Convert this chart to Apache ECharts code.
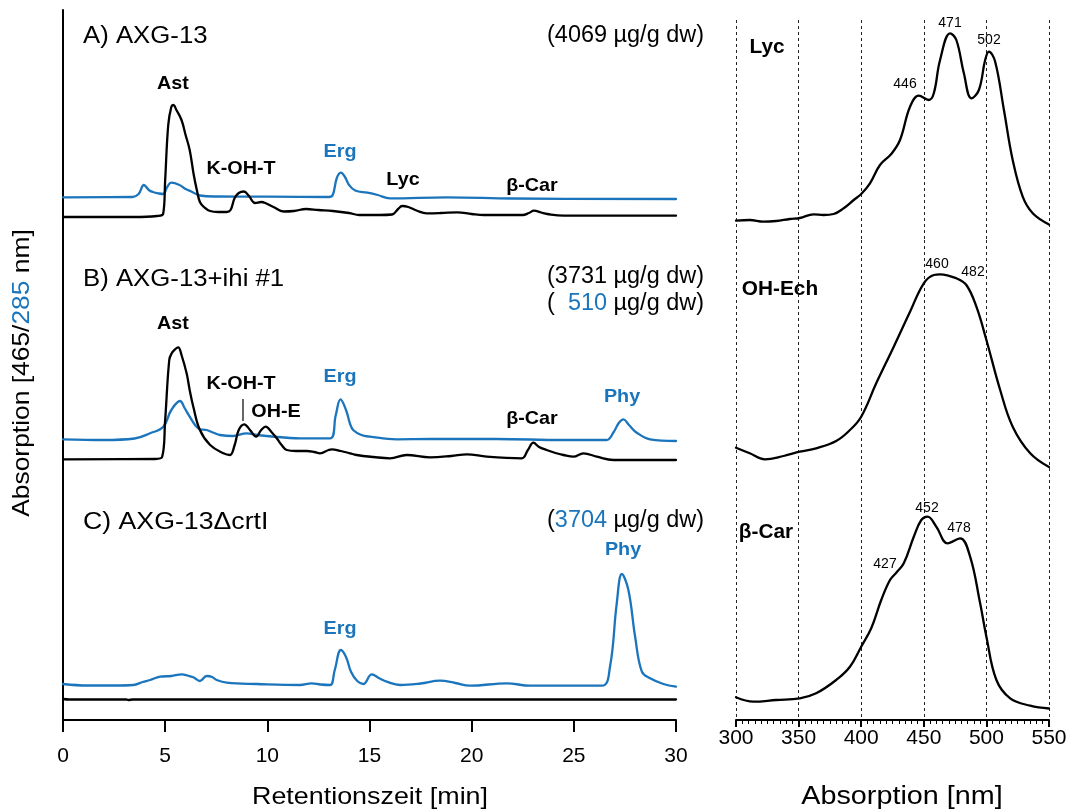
<!DOCTYPE html>
<html>
<head>
<meta charset="utf-8">
<script src="https://cdn.jsdelivr.net/npm/echarts@6/dist/echarts.min.js"></script>
<style>
html,body{margin:0;padding:0;background:#fff;}
#chart{width:1076px;height:811px;}
</style>
</head>
<body>
<div id="chart"></div>
<script>
// ---------- DATA (retention time [min], signal in arbitrary units) ----------
const aBlack = [[0,23],[3.5,23],[4.6,24],[4.9,26],[5.0,60],[5.15,115],[5.3,133],[5.4,135],[5.55,130],[5.8,120],[6.0,105],[6.2,90],[6.4,65],[6.55,50],[6.7,38],[6.9,33],[7.2,29],[7.6,28],[8.0,28],[8.2,30],[8.4,42],[8.6,47],[8.85,48.5],[9.1,44],[9.4,37],[9.7,38],[9.9,37],[10.3,33],[10.8,28.5],[11.3,29],[11.9,31],[12.5,30],[13.2,29],[14.0,27],[14.5,25],[15.5,25],[16.1,25.5],[16.4,31],[16.6,34],[16.9,33],[17.3,29.5],[17.8,26.7],[18.5,27],[19.3,27.7],[20,26],[20.6,25],[22.5,25],[22.8,27],[23.05,29.3],[23.4,27.5],[23.7,26],[24.5,24.3],[30,24.3]];
const aBlue = [[0,42.7],[3.4,43],[3.7,46],[3.96,55],[4.2,50],[4.4,48],[4.7,46.5],[4.9,46],[5.1,53],[5.3,57.3],[5.7,55],[6.0,51],[6.3,48.3],[6.7,44.5],[7.5,43.5],[10,43.3],[13.0,43],[13.2,45],[13.4,62],[13.6,67.3],[13.8,63],[14.0,55],[14.3,49.5],[14.9,47.3],[15.4,45],[16.0,41.7],[18.8,42.7],[22,41.5],[30,41]];
const bBlack = [[0,20.7],[4.5,21],[4.85,23],[5.0,60],[5.2,120],[5.32,126.7],[5.5,131],[5.64,132.7],[5.8,125],[6.05,106.7],[6.2,90],[6.38,73],[6.7,50],[7.2,35],[7.85,26.7],[8.17,25],[8.4,35],[8.6,50],[8.87,55.7],[9.15,50],[9.45,43.3],[9.7,50],[9.92,53.3],[10.2,48],[10.46,41.7],[10.7,35],[10.95,30],[11.4,29],[11.93,29],[12.3,28],[12.58,26.7],[13.0,30],[13.15,30.7],[13.6,29],[14.05,26.7],[14.37,25],[15.2,23],[16.0,21.7],[16.82,25],[17.96,22.7],[19.0,24],[19.76,25.7],[20.74,23.3],[22.45,21.7],[22.75,30],[23.02,37.3],[23.3,33],[23.67,30],[24.1,27],[24.49,25],[24.98,23.3],[25.47,26.7],[26.12,23.3],[26.94,20],[30,20]];
const bBlue = [[0,40.7],[2,40],[3.5,41.5],[4.26,46.7],[4.91,53.3],[5.3,70],[5.73,79],[5.95,72],[6.2,63.3],[6.5,54],[6.7,50.7],[7.03,50],[7.4,47],[7.68,45],[8.3,44],[8.99,46.7],[9.5,45],[9.97,44],[11.6,41.7],[13.07,41.7],[13.35,65],[13.58,80.7],[13.85,70],[14.05,56],[14.2,50],[14.6,45],[15.03,43.3],[16.33,40.7],[18,41],[21.2,41],[24.49,40],[26.6,40],[26.95,48],[27.2,57],[27.43,60.7],[27.7,55],[28.08,47.3],[28.73,40.7],[30,39]];
const cBlack = [[0,21],[0.3,20.5],[3.1,20.5],[3.2,20],[3.4,20.5],[30,20.5]];
const cBlue = [[0,36],[1.2,34.5],[2.5,34.5],[3.44,35],[3.9,38],[4.26,40],[4.75,43.3],[5.3,44],[5.81,45.7],[6.1,44.5],[6.38,42.7],[6.7,39],[7.03,44],[7.3,43],[7.52,40],[8.01,37.3],[9.5,36],[11.6,35],[12.17,36.7],[12.6,35.5],[13.07,35],[13.3,50],[13.6,70],[13.85,63],[14.1,48],[14.4,39],[14.7,36],[15.11,45.7],[15.5,41.5],[15.84,38.3],[16.5,35],[17.5,36.5],[18.45,39.3],[19.2,37],[19.92,34.3],[21.72,36.7],[22.86,34.3],[26.37,34.3],[26.77,53.3],[27.1,116.7],[27.35,146],[27.67,130],[28.0,83.3],[28.33,48.3],[28.73,41.7],[29.38,36],[30,33.3]];

// absorption spectra [nm, arbitrary units]
const specLyc = [[300,19.3],[311,20],[322,18.3],[332,19],[343,21],[351,22],[362,25.7],[370,25],[378,26],[386,31.7],[394,40],[400,46],[407,56.7],[415,75],[424,86],[431,100],[439,133.3],[446,144.3],[454,140],[458,146.7],[463,180],[471,206.7],[476,200],[482,166.7],[488,141.7],[494,150],[499,180],[502,188.3],[507,178.3],[514,130],[521,80],[529,43.3],[537,26.7],[550,15.5]];
const specOHEch = [[300,32.3],[311,26.7],[323,20.7],[338,24],[351,28.3],[364,31.7],[380,39],[391,50],[400,63.3],[412,96.7],[426,133.3],[439,168.3],[450,196.7],[458,205],[463,205.7],[476,201.7],[484,195],[492,173.3],[500,140],[511,90],[521,53.3],[535,26.7],[550,13]];
const specBCar = [[300,22.7],[314,18.3],[332,20],[351,21.7],[364,26.7],[380,40],[391,53.3],[400,73.3],[408,91.7],[416,120],[423,140],[428,147.3],[434,156.7],[442,183.3],[448,200],[453,203.3],[460,193.3],[469,176.7],[479,181.7],[487,163.3],[495,116.7],[500,83.3],[508,40],[519,21.7],[535,14.3],[550,11.5]];

const panelTitles = ['A) AXG-13', 'B) AXG-13+ihi #1', 'C) AXG-13\u0394crtI'];
const specNames = ['Lyc', 'OH-Ech', '\u03b2-Car'];
const lycMax = ['446', '471', '502'];
const ohEchMax = ['460', '482'];
const bCarMax = ['427', '452', '478'];

// ---------- CHART ----------
const BLUE = '#1b75bc';
const FONT = "'Liberation Sans', Arial, Helvetica, sans-serif";
const chart = echarts.init(document.getElementById('chart'), null, {renderer: 'canvas'});

function T(x, y, text, o) {
  o = o || {};
  const size = o.size || 23;
  const st = {
    text: text, fill: o.color || '#000', fontSize: size, fontFamily: FONT,
    fontWeight: o.bold ? 'bold' : 'normal',
    align: o.align || 'center', textAlign: o.align || 'center',
    verticalAlign: 'middle', textVerticalAlign: 'middle'
  };
  if (o.rich) {
    st.rich = {};
    for (const k in o.rich) {
      st.rich[k] = {fill: o.rich[k], color: o.rich[k], fontSize: size, fontFamily: FONT, fontWeight: o.bold ? 'bold' : 'normal'};
    }
  }
  return {type: 'text', x: x, y: y, scaleX: o.sx || 1, rotation: o.rot || 0, style: st, z: 100};
}

const L = {left: 63, width: 613};
const R = {left: 736, width: 313};
const grids = [
  {left: L.left, width: L.width, top: 10, height: 230},
  {left: L.left, width: L.width, top: 240, height: 240},
  {left: L.left, width: L.width, top: 480, height: 240},
  {left: R.left, width: R.width, top: 20, height: 220},
  {left: R.left, width: R.width, top: 240, height: 240},
  {left: R.left, width: R.width, top: 480, height: 240}
];
const yMax = [230, 240, 240, 220, 240, 240];

const xAxes = [];
const yAxes = [];
for (let i = 0; i < 6; i++) {
  const isLeft = i < 3;
  const isBottom = (i === 2 || i === 5);
  if (isLeft) {
    xAxes.push({
      gridIndex: i, type: 'value', min: 0, max: 30, interval: 5,
      show: isBottom,
      axisLine: {show: true, lineStyle: {color: '#000', width: 2}},
      axisTick: {show: true, length: 12, lineStyle: {color: '#000', width: 2}},
      axisLabel: {show: true, fontSize: 21, color: '#000', fontFamily: FONT, margin: 26},
      splitLine: {show: false}
    });
  } else {
    xAxes.push({
      gridIndex: i, type: 'value', min: 300, max: 550, interval: 50,
      axisLine: {show: isBottom, lineStyle: {color: '#000', width: 2}},
      axisTick: {show: isBottom, length: 7, lineStyle: {color: '#000', width: 2}},
      minorTick: {show: isBottom, splitNumber: 10, length: 4, lineStyle: {color: '#000', width: 1}},
      axisLabel: {show: isBottom, fontSize: 21, color: '#000', fontFamily: FONT, margin: 8},
      splitLine: {show: true, lineStyle: {color: '#222', width: 1, type: [3, 3]}},
      minorSplitLine: {show: false}
    });
  }
  yAxes.push({
    gridIndex: i, type: 'value', min: 0, max: yMax[i],
    show: isLeft,
    axisLine: {show: isLeft, lineStyle: {color: '#000', width: 2}},
    axisTick: {show: false}, axisLabel: {show: false}, splitLine: {show: false}
  });
}

function line(idx, data, color) {
  return {
    type: 'line', xAxisIndex: idx, yAxisIndex: idx, data: data,
    showSymbol: false, symbol: 'none', smooth: 0.4,
    lineStyle: {color: color, width: 2.3, join: 'round', cap: 'round'}, itemStyle: {color: color},
    silent: true, animation: false, z: 5
  };
}

const series = [
  line(0, aBlue, BLUE), line(0, aBlack, '#000'),
  line(1, bBlue, BLUE), line(1, bBlack, '#000'),
  line(2, cBlack, '#000'), line(2, cBlue, BLUE),
  line(3, specLyc, '#000'), line(4, specOHEch, '#000'), line(5, specBCar, '#000')
];

const SX = 1.12;
const BSX = 1.04;
const graphics = [
  // panel titles and contents
  T(83, 37, panelTitles[0], {align: 'left', sx: SX}),
  T(704, 36, '(4069 \u00b5g/g dw)', {align: 'right', sx: 1.02}),
  T(83, 280, panelTitles[1], {align: 'left', sx: SX}),
  T(704, 277, '(3731 \u00b5g/g dw)', {align: 'right', sx: 1.02}),
  T(704, 304, '{k|(  }{b|510}{k| \u00b5g/g dw)}', {align: 'right', sx: 1.02, rich: {k: '#000', b: BLUE}}),
  T(83, 523, panelTitles[2], {align: 'left', sx: 1.16}),
  T(704, 521, '{k|(}{b|3704}{k| \u00b5g/g dw)}', {align: 'right', sx: 1.02, rich: {k: '#000', b: BLUE}}),
  // peak labels A
  T(173, 84, 'Ast', {size: 19, bold: true, sx: BSX}),
  T(241, 169, 'K-OH-T', {size: 19, bold: true, sx: BSX}),
  T(340, 152, 'Erg', {size: 19, bold: true, sx: BSX, color: BLUE}),
  T(403, 180, 'Lyc', {size: 19, bold: true, sx: BSX}),
  T(532, 186, '\u03b2-Car', {size: 19, bold: true, sx: BSX}),
  // peak labels B
  T(173, 324, 'Ast', {size: 19, bold: true, sx: BSX}),
  T(241, 384, 'K-OH-T', {size: 19, bold: true, sx: BSX}),
  T(276, 412, 'OH-E', {size: 19, bold: true, sx: BSX}),
  T(340, 377, 'Erg', {size: 19, bold: true, sx: BSX, color: BLUE}),
  T(532, 419, '\u03b2-Car', {size: 19, bold: true, sx: BSX}),
  T(622, 397, 'Phy', {size: 19, bold: true, sx: BSX, color: BLUE}),
  {type: 'line', shape: {x1: 243, y1: 399, x2: 243, y2: 421}, style: {stroke: '#000', lineWidth: 1.2}, z: 100},
  // peak labels C
  T(340, 629, 'Erg', {size: 19, bold: true, sx: BSX, color: BLUE}),
  T(623, 550, 'Phy', {size: 19, bold: true, sx: BSX, color: BLUE}),
  // spectra labels
  T(767, 47, specNames[0], {size: 20, bold: true, sx: BSX}),
  T(905, 84, lycMax[0], {size: 14}),
  T(950, 23, lycMax[1], {size: 14}),
  T(989, 40, lycMax[2], {size: 14}),
  T(780, 289, specNames[1], {size: 20, bold: true, sx: BSX}),
  T(937, 264, ohEchMax[0], {size: 14}),
  T(973, 272, ohEchMax[1], {size: 14}),
  T(766, 532, specNames[2], {size: 20, bold: true, sx: BSX}),
  T(885, 564, bCarMax[0], {size: 14}),
  T(927, 508, bCarMax[1], {size: 14}),
  T(959, 528, bCarMax[2], {size: 14}),
  // axis titles
  T(370, 797, 'Retentionszeit [min]', {size: 24, sx: 1.12}),
  T(902, 797, 'Absorption [nm]', {size: 25, sx: 1.15}),
  T(22, 373, '{k|Absorption [465/}{b|285}{k| nm]}', {size: 24, sx: 1.1, rot: Math.PI / 2, rich: {k: '#000', b: BLUE}})
];

chart.setOption({
  animation: false,
  backgroundColor: '#fff',
  grid: grids,
  xAxis: xAxes,
  yAxis: yAxes,
  series: series,
  graphic: {elements: graphics}
});
</script>
</body>
</html>
